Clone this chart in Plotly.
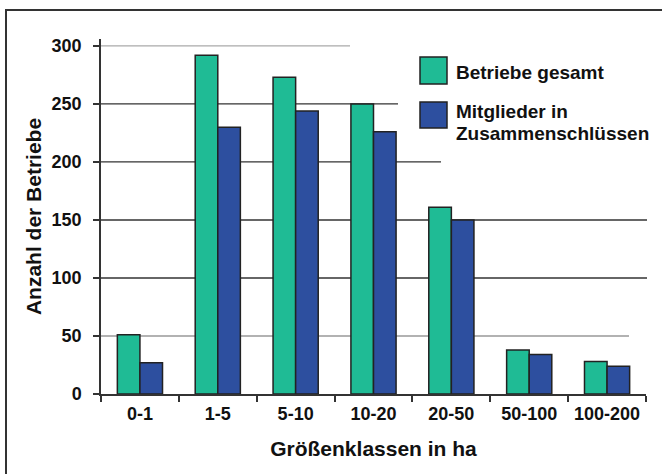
import plotly.graph_objects as go

categories = ["0-1", "1-5", "5-10", "10-20", "20-50", "50-100", "100-200"]
betriebe_gesamt = [51, 292, 273, 250, 161, 38, 28]
mitglieder = [27, 230, 244, 226, 150, 34, 24]
y_ticks = [0, 50, 100, 150, 200, 250, 300]

GREEN = "#1FBB95"
BLUE = "#2D4F9F"
OUTLINE = "#222222"
FONT = "Liberation Sans, Arial, sans-serif"

fig = go.Figure()
fig.add_trace(go.Bar(x=categories, y=betriebe_gesamt, name="Betriebe gesamt",
                     marker=dict(color=GREEN, line=dict(color=OUTLINE, width=1.5))))
fig.add_trace(go.Bar(x=categories, y=mitglieder, name="Mitglieder in Zusammenschlüssen",
                     marker=dict(color=BLUE, line=dict(color=OUTLINE, width=1.5))))

L, R, T, B = 101, 16, 39, 80
W, H = 662, 474
pw, ph = W - L - R, H - T - B

def px(x):
    return (x - L) / pw

def py(y):
    return (H - B - y) / ph

shapes = []
grid = [(300, 350, "#aaaaaa"), (250, 398, "#333333"), (200, 441, "#333333"),
        (150, 647, "#333333"), (100, 647, "#333333"), (50, 629, "#999999")]
for val, xend, col in grid:
    shapes.append(dict(type="line", xref="paper", yref="y", x0=0, x1=px(xend),
                       y0=val, y1=val, line=dict(color=col, width=1.3), layer="below"))
# white strip on the far right (keeps edge clean)
shapes.append(dict(type="rect", xref="paper", yref="paper", x0=px(649), x1=px(670),
                   y0=py(480), y1=py(12), fillcolor="white", line=dict(width=0), layer="above"))
# outer frame: top and left edges only visible
shapes.append(dict(type="line", xref="paper", yref="paper", x0=px(5), x1=px(662),
                   y0=py(10), y1=py(10), line=dict(color="#333333", width=2)))
shapes.append(dict(type="line", xref="paper", yref="paper", x0=px(6), x1=px(6),
                   y0=py(9), y1=py(474), line=dict(color="#333333", width=2)))
for (y0, y1), col in [((57, 84), GREEN), ((102, 128), BLUE)]:
    shapes.append(dict(type="rect", xref="paper", yref="paper", x0=px(420), x1=px(447),
                       y0=py(y1), y1=py(y0), fillcolor=col,
                       line=dict(color=OUTLINE, width=1.5)))

LEG_FONT = dict(size=19, color="#111", family=FONT, weight="bold")
legend_lines = [("Betriebe gesamt", 72), ("Mitglieder in", 112), ("Zusammenschlüssen", 133)]
annotations = [
    dict(text=t, xref="paper", yref="paper", x=px(454), y=py(yc),
         xanchor="left", yanchor="middle", showarrow=False, font=LEG_FONT)
    for t, yc in legend_lines
]

fig.update_layout(
    width=W, height=H,
    margin=dict(l=L, r=R, t=T, b=B),
    paper_bgcolor="white", plot_bgcolor="white",
    showlegend=False,
    barmode="group", bargap=0.42, bargroupgap=0,
    font=dict(family=FONT, color="#111"),
    shapes=shapes, annotations=annotations,
    xaxis=dict(
        automargin=False,
        showline=True, linecolor="#333", linewidth=1.5,
        ticks="outside", tickson="boundaries", ticklen=6, tickcolor="#333", tickwidth=1.5,
        ticklabelstandoff=3,
        tickfont=dict(size=18, family=FONT, weight="bold"), showgrid=False,
        title=dict(text="Größenklassen in ha", font=dict(size=21, family=FONT, weight="bold"), standoff=18),
    ),
    yaxis=dict(
        automargin=False,
        range=[0, 306], tickvals=y_ticks,
        showline=True, linecolor="#333", linewidth=1.5,
        ticks="outside", ticklen=6, tickcolor="#333", tickwidth=1.5,
        ticklabelstandoff=8,
        tickfont=dict(size=18, family=FONT, weight="bold"), showgrid=False, zeroline=False,
        title=dict(text="Anzahl der Betriebe", font=dict(size=21, family=FONT, weight="bold"), standoff=4),
    ),
)

fig.write_html("out.html", config={"displayModeBar": False},
               post_script="document.body.style.margin='0';document.body.style.overflow='hidden';document.documentElement.style.overflow='hidden';")
